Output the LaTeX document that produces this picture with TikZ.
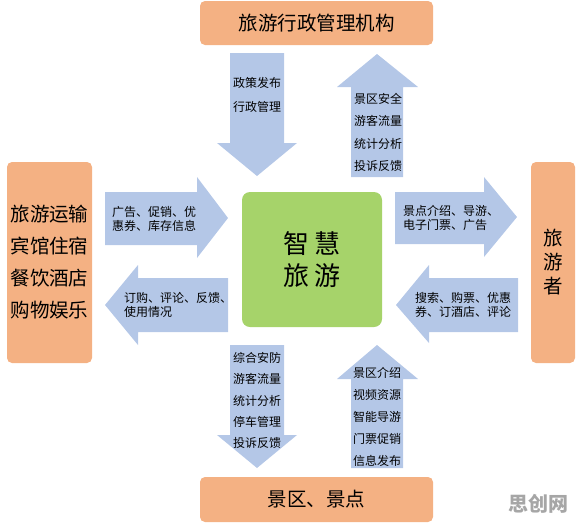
\documentclass[tikz,border=0pt]{standalone}
\usepackage{fontspec}
\setmainfont{Noto Sans CJK SC}
\definecolor{boxorange}{HTML}{F4B183}
\definecolor{arrowblue}{HTML}{B4C7E7}
\definecolor{coregreen}{HTML}{A6D36A}
\begin{document}
\begin{tikzpicture}[x=1pt, y=-1pt,
    box/.style={fill=boxorange, rounded corners=5pt, inner sep=0pt, align=center},
    flow/.style={fill=arrowblue},
    lbl/.style={inner sep=0pt, align=left, anchor=west, font=\fontsize{12}{14}\selectfont},
    stack/.style={inner sep=0pt, align=center, font=\fontsize{12}{21.5}\selectfont}]
    \useasboundingbox (0,0) rectangle (576,523);

    % Boxes
    \node[box, minimum width=233pt, minimum height=44pt, font=\fontsize{19.5}{24}\selectfont] (admin) at (316.5,23) {旅游行政管理机构};
    \node[box, minimum width=85pt, minimum height=201pt, font=\fontsize{19.5}{32}\selectfont] (business) at (49.5,262.5) {旅游运输\\宾馆住宿\\餐饮酒店\\购物娱乐};
    \node[box, minimum width=44pt, minimum height=201pt, font=\fontsize{19.5}{24}\selectfont] (tourist) at (553,262.5) {旅\\游\\者};
    \node[box, minimum width=233pt, minimum height=45pt, font=\fontsize{19.5}{24}\selectfont] (scenic) at (316.5,499.5) {景区、景点};
    \node[box, fill=coregreen, rounded corners=8pt, minimum width=140pt, minimum height=135pt, font=\fontsize{26}{32}\selectfont] (core) at (312,259.5) {智 慧\\旅 游};

    % Admin arrows
    \fill[flow] (230,53) -- (284,53) -- (284,143) -- (297,143) -- (257,176) -- (217,143) -- (230,143) -- cycle;
    \fill[flow] (351,177) -- (403,177) -- (403,87) -- (418,87) -- (377,54) -- (337,87) -- (351,87) -- cycle;
    % Business arrows
    \fill[flow] (105,192) -- (197,192) -- (197,177) -- (228,218) -- (197,258) -- (197,245) -- (105,245) -- cycle;
    \fill[flow] (228,278) -- (138,278) -- (138,265) -- (105,305) -- (138,345) -- (138,332) -- (228,332) -- cycle;
    % Tourist arrows
    \fill[flow] (395,192) -- (484,192) -- (484,177) -- (517,217) -- (484,257) -- (484,244) -- (395,244) -- cycle;
    \fill[flow] (518,278) -- (429,278) -- (429,265) -- (396,305) -- (429,343) -- (429,332) -- (518,332) -- cycle;
    % Scenic arrows
    \fill[flow] (230,345) -- (284,345) -- (284,435) -- (297,435) -- (257,468) -- (217,435) -- (230,435) -- cycle;
    \fill[flow] (351,468) -- (403,468) -- (403,379) -- (418,379) -- (377,345) -- (337,379) -- (351,379) -- cycle;

    % Arrow labels
    \node[stack, font=\fontsize{12}{24}\selectfont] (policy) at (257,95) {政策发布\\行政管理};
    \node[stack, font=\fontsize{12}{22.3}\selectfont] (monitor) at (378,132.5) {景区安全\\游客流量\\统计分析\\投诉反馈};
    \node[lbl] (ads) at (112,219) {广告、促销、优\\惠券、库存信息};
    \node[lbl] (orders) at (124,304.5) {订购、评论、反馈、\\使用情况};
    \node[lbl] (guide) at (403,218) {景点介绍、导游、\\电子门票、广告};
    \node[lbl] (search) at (415,305) {搜索、购票、优惠\\券、订酒店、评论};
    \node[stack, font=\fontsize{12}{21.3}\selectfont] (safety) at (257,400.5) {综合安防\\游客流量\\统计分析\\停车管理\\投诉反馈};
    \node[stack, font=\fontsize{12}{22}\selectfont] (service) at (377,417) {景区介绍\\视频资源\\智能导游\\门票促销\\信息发布};

    % Watermark
    \node[inner sep=0pt, text=gray!70, font=\fontsize{20}{24}\selectfont\bfseries] (mark) at (538,504) {思创网};
\end{tikzpicture}
\end{document}
